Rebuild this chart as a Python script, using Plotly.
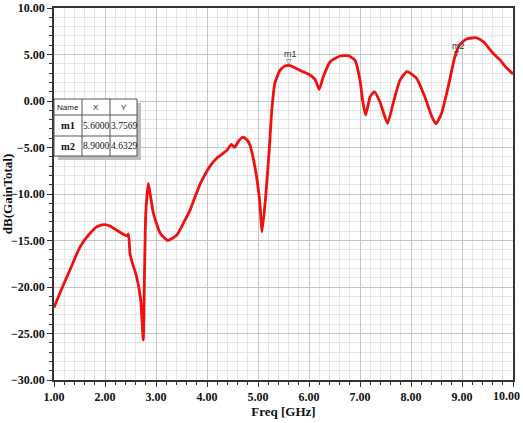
import plotly.graph_objects as go

# ---- data ----
freq_ghz = [1.00, 1.12, 1.31, 1.51, 1.71, 1.85, 1.99, 2.10, 2.23, 2.35, 2.43, 2.46,
            2.49, 2.53, 2.62, 2.70, 2.75, 2.77, 2.80, 2.85, 2.90, 2.95, 3.08, 3.23,
            3.41, 3.55, 3.67, 3.86, 4.06, 4.20, 4.39, 4.48, 4.54, 4.62, 4.70, 4.77,
            4.84, 4.94, 5.03, 5.08, 5.15, 5.22, 5.27, 5.33, 5.43, 5.53, 5.63, 5.82,
            6.02, 6.12, 6.20, 6.28, 6.41, 6.61, 6.77, 6.90, 7.00, 7.05, 7.11, 7.20,
            7.28, 7.39, 7.54, 7.65, 7.78, 7.92, 8.11, 8.27, 8.41, 8.49, 8.60, 8.73,
            8.86, 8.95, 9.09, 9.29, 9.42, 9.61, 9.75, 9.85, 10.00]
gain_db = [-22.2, -20.6, -18.2, -15.7, -14.2, -13.5, -13.3, -13.45, -13.9, -14.3, -14.5, -14.3,
           -16.4, -17.3, -18.9, -21.4, -25.7, -20.0, -12.0, -8.85, -10.5, -12.1, -14.2, -15.0,
           -14.4, -13.0, -11.7, -9.0, -7.0, -6.1, -5.3, -4.66, -5.0, -4.3, -3.9, -4.1,
           -4.7, -7.1, -10.6, -14.05, -10.3, -5.3, -1.0, 1.9, 3.3, 3.76, 3.8, 3.3,
           2.8, 2.3, 1.25, 2.6, 4.2, 4.84, 4.87, 4.4, 2.26, 0.1, -1.5, 0.46,
           1.0, -0.08, -2.4, -0.25, 2.2, 3.15, 2.44, 0.46, -1.69, -2.47, -1.32, 1.54,
           4.76, 6.0, 6.67, 6.8, 6.37, 5.13, 4.4, 3.7, 2.9]

x_tick_vals = [1, 2, 3, 4, 5, 6, 7, 8, 9, 10]
x_tick_labels = ["1.00", "2.00", "3.00", "4.00", "5.00", "6.00", "7.00", "8.00", "9.00", "10.00"]

marker_names = ["m1", "m2"]
marker_x = [5.6, 8.9]
marker_y = [3.7569, 4.6329]
table_header = ["Name", "X", "Y"]

fig = go.Figure()
fig.add_trace(go.Scatter(x=freq_ghz, y=gain_db, mode="lines",
                         line=dict(color="#f01010", width=2.8, shape="spline", smoothing=0.5),
                         hoverinfo="skip", showlegend=False))

# marker labels
for n, mx, my in zip(marker_names, marker_x, marker_y):
    fig.add_annotation(x=mx, y=my, text="▽", showarrow=False, yanchor="bottom", xanchor="center",
                       font=dict(family="DejaVu Sans", size=7, color="#333"), yshift=-2)
    fig.add_annotation(x=mx, y=my, text=n, showarrow=False, yanchor="bottom", xanchor="center",
                       font=dict(family="Liberation Sans Narrow, Liberation Sans", size=9, color="#333"),
                       yshift=5, xshift=2)

# marker table (paper coordinates)
W, H = 459.0, 372.0
def px(x): return x / W
def py(y): return 1 - y / H
tx0, tx1, ty0, ty1 = 0, 83, 91, 148
cols = [0, 28, 56, 83]
rows = [91, 107, 128, 148]
fig.add_shape(type="rect", xref="paper", yref="paper", x0=px(tx0 + 4), x1=px(tx1 + 4),
              y0=py(ty1 + 4), y1=py(ty0 + 4), fillcolor="#bdbdbd", line=dict(width=0))
fig.add_shape(type="rect", xref="paper", yref="paper", x0=px(tx0), x1=px(tx1),
              y0=py(ty1), y1=py(ty0), fillcolor="white", line=dict(color="#555", width=1))
for c in cols[1:-1]:
    fig.add_shape(type="line", xref="paper", yref="paper", x0=px(c), x1=px(c),
                  y0=py(ty1), y1=py(ty0), line=dict(color="#555", width=1))
for r in rows[1:-1]:
    fig.add_shape(type="line", xref="paper", yref="paper", x0=px(tx0), x1=px(tx1),
                  y0=py(r), y1=py(r), line=dict(color="#555", width=1))
for i, h in enumerate(table_header):
    fig.add_annotation(xref="paper", yref="paper", x=px((cols[i] + cols[i + 1]) / 2),
                       y=py((rows[0] + rows[1]) / 2), text=h, showarrow=False,
                       xanchor="center", yanchor="middle",
                       font=dict(family="Liberation Sans Narrow, Liberation Sans", size=8, color="#222"))
for j, (n, mx, my) in enumerate(zip(marker_names, marker_x, marker_y)):
    yc = py((rows[j + 1] + rows[j + 2]) / 2)
    vals = [f"<b>{n}</b>", f"{mx:.4f}", f"{my:.4f}"]
    sizes = [10.5, 9.5, 9.5]
    for i, v in enumerate(vals):
        fig.add_annotation(xref="paper", yref="paper", x=px((cols[i] + cols[i + 1]) / 2), y=yc,
                           text=v, showarrow=False, xanchor="center", yanchor="middle",
                           font=dict(family="Liberation Serif", size=sizes[i], color="#111"))

tickfont = dict(family="Liberation Serif", size=12, color="#111")

# the last x label is drawn as an annotation, right-aligned so it stays inside the window
x_tick_text = [f"<b>{t}</b>" for t in x_tick_labels[:-1]] + [""]
fig.add_annotation(xref="x", yref="paper", x=x_tick_vals[-1], y=0, text=f"<b>{x_tick_labels[-1]}</b>",
                   showarrow=False, xanchor="right", yanchor="top", xshift=9, yshift=-7,
                   font=tickfont)

common = dict(showgrid=True, gridcolor="#c6c6c6", gridwidth=1, ticks="outside", ticklen=5,
              tickcolor="#333", showline=True, linecolor="#333", linewidth=1.5, mirror=True,
              zeroline=False, tickfont=tickfont, automargin=False,
              ticklabeloverflow="allow")
fig.update_xaxes(range=[1, 10], tickmode="array", tickvals=x_tick_vals, ticktext=x_tick_text,
                 minor=dict(tickmode="linear", tick0=1, dtick=0.2, showgrid=True,
                            gridcolor="#e6e6e6", ticks="outside", ticklen=3, tickcolor="#333"),
                 title=dict(text="<b>Freq [GHz]</b>", standoff=2,
                            font=dict(family="Liberation Serif", size=13, color="#111")),
                 **common)
fig.update_yaxes(range=[-30, 10], tick0=-30, dtick=5, tickformat=".2f",
                 tickprefix="<b>", ticksuffix="</b>",
                 minor=dict(dtick=1, showgrid=True, gridcolor="#e6e6e6", ticks="outside",
                            ticklen=3, tickcolor="#333"),
                 title=dict(text="<b>dB(GainTotal)</b>", standoff=4,
                            font=dict(family="Liberation Serif", size=13, color="#111")),
                 **common)
fig.update_layout(width=523, height=423, margin=dict(l=54, r=10, t=8, b=43),
                  plot_bgcolor="white", paper_bgcolor="white", showlegend=False)
fig.write_html("out.html", config={"displayModeBar": False},
               post_script="document.body.style.margin='0';")
